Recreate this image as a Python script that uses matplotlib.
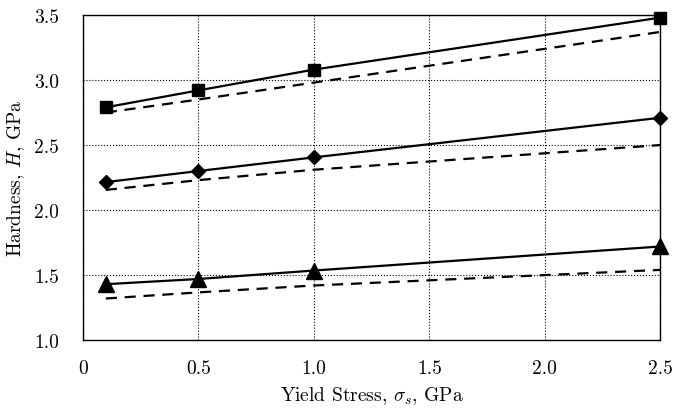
import matplotlib
matplotlib.use("Agg")
from matplotlib import pyplot as plt

plt.rcParams["font.family"] = "serif"
plt.rcParams["font.serif"] = ["cmr10", "DejaVu Serif"]
plt.rcParams["mathtext.fontset"] = "cm"
plt.rcParams["axes.formatter.use_mathtext"] = True

stress = [0.1, 0.5, 1.0, 2.5]

sq_solid = [2.79, 2.92, 3.08, 3.48]
sq_dash = [2.75, 2.85, 2.98, 3.37]
di_solid = [2.215, 2.30, 2.405, 2.71]
di_dash = [2.155, 2.23, 2.31, 2.50]
tri_solid = [1.43, 1.47, 1.535, 1.72]
tri_dash = [1.32, 1.367, 1.42, 1.54]

xticks = [0, 0.5, 1.0, 1.5, 2.0, 2.5]
xlabels = ["0", "0.5", "1.0", "1.5", "2.0", "2.5"]
yticks = [1.0, 1.5, 2.0, 2.5, 3.0, 3.5]
ylabels = ["1.0", "1.5", "2.0", "2.5", "3.0", "3.5"]

fig = plt.figure(figsize=(6.75, 4.1), dpi=100)
ax = fig.add_axes([0.1225, 0.168, 0.856, 0.793])

ax.plot(stress, sq_solid, "k-s", lw=1.6, ms=9, clip_on=False)
ax.plot(stress, sq_dash, "k--", lw=1.6, dashes=(5, 3.5))
ax.plot(stress, di_solid, "k-D", lw=1.6, ms=7.5, clip_on=False)
ax.plot(stress, di_dash, "k--", lw=1.6, dashes=(5, 3.5))
ax.plot(stress, tri_solid, "k-^", lw=1.6, ms=11, clip_on=False)
ax.plot(stress, tri_dash, "k--", lw=1.6, dashes=(5, 3.5))

ax.set_xlim(0, 2.5)
ax.set_ylim(1.0, 3.5)
ax.set_xticks(xticks)
ax.set_xticklabels(xlabels)
ax.set_yticks(yticks)
ax.set_yticklabels(ylabels)
ax.tick_params(length=0, labelsize=14)
ax.tick_params(axis="x", pad=14)
ax.tick_params(axis="y", pad=17)
ax.grid(True, color="black", linestyle=":", linewidth=0.8)
for s in ax.spines.values():
    s.set_linewidth(1.0)
    s.set_zorder(3)

ax.set_xlabel(r"Yield Stress, $\sigma_s$, GPa", fontsize=14, labelpad=5)
ax.set_ylabel(r"Hardness, $H$, GPa", fontsize=14, labelpad=5)

fig.savefig("out.png", dpi=100)
